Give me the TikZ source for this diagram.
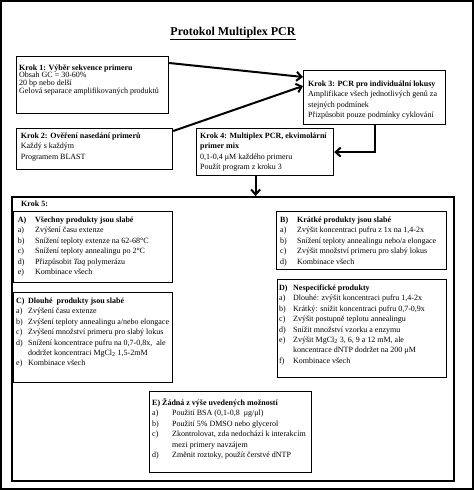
\documentclass[tikz,border=0pt]{standalone}
\usepackage{fontspec}
\setmainfont{Liberation Serif}
\usetikzlibrary{arrows.meta}
\begin{document}
\begin{tikzpicture}[x=1pt,y=-1pt,
  box/.style={draw=black, line width=1.2pt, inner sep=0pt, anchor=north west},
  bigbox/.style={draw=black, line width=2pt, inner sep=0pt, anchor=north west},
  txt/.style={inner sep=0pt, anchor=base west, font=\fontsize{8}{10.4}\selectfont, text=black},
  arr/.style={line width=2pt, -{Straight Barb[length=5pt,width=9pt]}},
]
\useasboundingbox (0,0) rectangle (474,490);
\draw[line width=2pt] (1,1) rectangle (473,489);

% title
\node[inner sep=0pt, anchor=base, font=\bfseries\fontsize{12}{14}\selectfont] (title) at (233,35.5) {\underline{Protokol Multiplex PCR}};

% step boxes
\node[box, minimum width=152pt, minimum height=57pt] (k1) at (16,56) {};
\node[box, minimum width=142pt, minimum height=54pt] (k3) at (303,70) {};
\node[box, minimum width=156pt, minimum height=41pt] (k2) at (16,128) {};
\node[box, minimum width=137pt, minimum height=47pt] (k4) at (196,128) {};
\node[bigbox, minimum width=442pt, minimum height=284pt] (k5) at (11,196) {};

\node[txt, font=\fontsize{8}{7.8}\selectfont] (t1) at (19,70) {\begin{tabular}[t]{@{}l@{}}\textbf{Krok 1: Výběr sekvence primeru}\\ Obsah GC = 30-60\%\\ 20 bp nebo delší\\ Gelová separace amplifikovaných produktů\end{tabular}};
\node[txt] (t3) at (308,86.5) {\begin{tabular}[t]{@{}l@{}}\textbf{Krok 3: PCR pro individuální lokusy}\\ Amplifikace všech jednotlivých genů za\\ stejných podmínek\\ Přizpůsobit pouze podmínky cyklování\end{tabular}};
\node[txt] (t2) at (20.7,138.5) {\begin{tabular}[t]{@{}l@{}}\textbf{Krok 2: Ověření nasedání primerů}\\ Každý s každým\\ Programem BLAST\end{tabular}};
\node[txt] (t4) at (200,138.5) {\begin{tabular}[t]{@{}l@{}}\textbf{Krok 4: Multiplex PCR, ekvimolární}\\ \textbf{primer mix}\\ 0,1-0,4 μM každého primeru\\ Použít program z kroku 3\end{tabular}};
\node[txt] (t5) at (21,206.5) {\textbf{Krok 5:}};

% arrows
\draw[arr] ([yshift=-7pt]k1.north east) -- ([yshift=-7pt]k3.north west);
\draw[arr] ([yshift=-3pt]k2.north east) -- ([yshift=-16pt]k3.north west);
\draw[arr] (k3.south) |- (k4.east);
\draw[arr] ([xshift=-9.5pt]k4.south) -- ([xshift=-9.5pt]k4.south |- k5.north);

% sub boxes
\node[box, minimum width=159pt, minimum height=71pt] (ba) at (13,211) {};
\node[box, minimum width=170pt, minimum height=58pt] (bb) at (276,211) {};
\node[box, minimum width=159pt, minimum height=90pt] (bc) at (13,292) {};
\node[box, minimum width=169pt, minimum height=98pt] (bd) at (277,279) {};
\node[box, minimum width=162pt, minimum height=81pt] (be) at (149,391) {};

\node[txt] (ta) at (17.7,222.5) {\begin{tabular}[t]{@{}p{17.3pt}@{}l@{}}\textbf{A)} & \textbf{Všechny produkty jsou slabé}\\ a) & Zvýšení času extenze\\ b) & Snížení teploty extenze na 62-68°C\\ c) & Snížení teploty annealingu po 2°C\\ d) & Přizpůsobit \textit{Taq} polymerázu\\ e) & Kombinace všech\end{tabular}};

\node[txt] (tb) at (280,222.5) {\begin{tabular}[t]{@{}p{17pt}@{}l@{}}\textbf{B)} & \textbf{Krátké produkty jsou slabé}\\ a) & Zvýšit koncentraci pufru z 1x na 1,4-2x\\ b) & Snížení teploty annealingu nebo/a elongace\\ c) & Zvýšit množství primeru pro slabý lokus\\ d) & Kombinace všech\end{tabular}};

\node[txt] (tc) at (16,303.5) {\begin{tabular}[t]{@{}p{12pt}@{}l@{}}\textbf{C)} & \textbf{Dlouhé\ \ produkty jsou slabé}\\ a) & Zvýšení času extenze\\ b) & Zvýšení teploty annealingu a/nebo elongace\\ c) & Zvýšení množství primeru pro slabý lokus\\ d) & Snížení koncentrace pufru na 0,7-0,8x,\ \ ale\\ & dodržet koncentraci MgCl\textsubscript{2} 1,5-2mM\\ e) & Kombinace všech\end{tabular}};

\node[txt] (td) at (279,290.5) {\begin{tabular}[t]{@{}p{14pt}@{}l@{}}\textbf{D)} & \textbf{Nespecifické produkty}\\ a) & Dlouhé: zvýšit koncentraci pufru 1,4-2x\\ b) & Krátký: snížit koncentraci pufru 0,7-0,9x\\ c) & Zvýšit postupně teplotu annealingu\\ d) & Snížit množství vzorku a enzymu\\ e) & Zvýšit MgCl\textsubscript{2} 3, 6, 9 a 12 mM, ale\\ & koncentrace dNTP dodržet na 200 μM\\ f) & Kombinace všech\end{tabular}};

\node[txt] (te) at (152,405.5) {\begin{tabular}[t]{@{}p{20pt}@{}l@{}}\multicolumn{2}{@{}l@{}}{\textbf{E) Žádná z výše uvedených možností}}\\ a) & Použití BSA (0,1-0,8\ \ μg/μl)\\ b) & Použití 5\% DMSO nebo glycerol\\ c) & Zkontrolovat, zda nedochází k interakcím\\ & mezi primery navzájem\\ d) & Změnit roztoky, použít čerstvé dNTP\end{tabular}};
\end{tikzpicture}
\end{document}
